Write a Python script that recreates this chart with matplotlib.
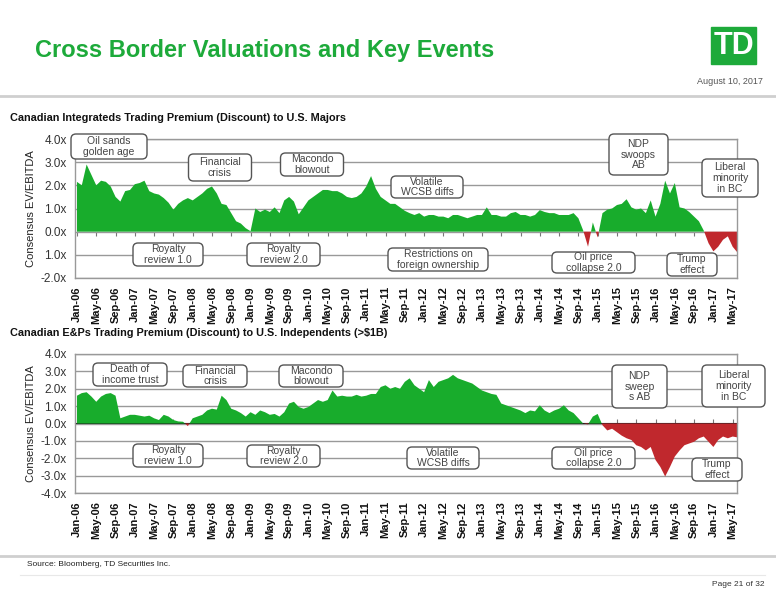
import matplotlib
matplotlib.use("Agg")
import matplotlib.pyplot as plt
from matplotlib.patches import FancyBboxPatch, Rectangle
import numpy as np
import pandas as pd

plt.rcParams["font.family"] = ["Liberation Sans", "DejaVu Sans"]

W, H = 776, 600

# monthly readings, Jan-06 .. Jun-17
integrated = [
    2.15, 2.0, 2.9, 2.45, 2.0, 2.2, 2.15, 1.95, 1.5, 1.3,
    1.75, 1.8, 2.05, 2.1, 2.2, 1.75, 1.65, 1.6, 1.45, 1.25,
    0.95, 1.2, 1.35, 1.45, 1.35, 1.5, 1.65, 1.85, 1.95, 1.65,
    1.2, 1.15, 0.8, 0.45, 0.35, 0.15, 0.02, 1.0, 0.85, 0.95,
    0.85, 1.05, 0.8, 1.35, 1.5, 1.3, 0.75, 1.05, 1.35, 1.5,
    1.65, 1.8, 1.8, 1.75, 1.75, 1.65, 1.5, 1.45, 1.5, 1.65,
    1.95, 2.4, 1.85, 1.5, 1.35, 1.2, 1.2, 1.05, 0.9, 0.8,
    0.72, 0.8, 0.65, 0.72, 0.72, 0.65, 0.65, 0.58, 0.72, 0.72,
    0.65, 0.58, 0.65, 0.72, 0.72, 1.05, 0.72, 0.72, 0.65, 0.65,
    0.8, 0.85, 0.72, 0.72, 0.65, 0.72, 0.93, 0.85, 0.8, 0.8,
    0.72, 0.72, 0.72, 0.8, 0.58, 0.05, -0.65, 0.4, -0.25, 0.8,
    0.95, 1.0, 1.15, 1.2, 1.4, 1.05, 0.95, 1.0, 0.8, 1.35,
    0.65, 1.2, 2.2, 1.65, 2.1, 1.05, 1.0, 0.85, 0.65, 0.45,
    0.05, -0.5, -0.85, -0.65, -0.35, -0.2, -0.65, -0.9,
]
eandp = [
    1.6, 1.75, 1.8, 1.55, 1.25, 1.55, 1.7, 1.75, 1.6, 0.3,
    0.4, 0.5, 0.5, 0.45, 0.4, 0.45, 0.3, 0.2, 0.5, 0.4,
    0.2, 0.12, 0.1, -0.15, 0.3, 0.4, 0.5, 0.75, 0.85, 0.8,
    1.6, 1.35, 0.85, 0.75, 0.6, 0.4, 0.65, 0.5, 0.75, 0.65,
    0.5, 0.55, 0.4, 0.65, 1.15, 1.25, 0.95, 0.85, 0.95, 1.15,
    1.35, 1.25, 1.35, 1.9, 1.55, 1.6, 1.55, 1.55, 1.65, 1.55,
    1.6, 1.7, 1.7, 2.1, 2.2, 2.0, 2.1, 2.0, 2.4, 2.6,
    2.2, 2.0, 1.8, 2.5, 2.1, 2.4, 2.5, 2.6, 2.8, 2.6,
    2.5, 2.4, 2.3, 2.1, 1.9, 1.8, 1.7, 1.65, 1.15, 1.05,
    0.95, 0.85, 0.75, 0.6, 0.75, 0.7, 1.05, 0.75, 0.6, 0.75,
    0.85, 1.05, 0.75, 0.6, 0.3, 0.0, -0.05, 0.4, 0.55, -0.1,
    -0.4, -0.3, -0.5, -0.7, -0.85, -0.95, -1.25, -1.35, -1.55, -1.35,
    -2.1, -2.5, -3.05, -2.5, -1.9, -1.55, -1.25, -1.15, -1.05, -0.85,
    -0.75, -1.05, -1.35, -0.95, -0.75, -0.85, -0.75, -0.8,
]
months = pd.date_range("2006-01-01", periods=len(integrated), freq="MS")
tick_idx = list(range(0, len(months), 4))
tick_labels = [months[i].strftime("%b-%y") for i in tick_idx]

top_yticks = [4, 3, 2, 1, 0, -1, -2]
top_ylabels = ["4.0x", "3.0x", "2.0x", "1.0x", "0.0x", "1.0x", "-2.0x"]
bot_yticks = [4, 3, 2, 1, 0, -1, -2, -3, -4]
bot_ylabels = ["4.0x", "3.0x", "2.0x", "1.0x", "0.0x", "-1.0x", "-2.0x", "-3.0x", "-4.0x"]

# (text, centre x, centre y, width, height) in page pixels
top_notes = [
    ("Oil sands\ngolden age", 109, 146.5, 76, 25),
    ("Financial\ncrisis", 220, 167.5, 63, 27),
    ("Macondo\nblowout", 312, 164.5, 63, 23),
    ("Volatile\nWCSB diffs", 427, 187, 72, 22),
    ("NDP\nswoops\nAB", 638.5, 154.5, 59, 41),
    ("Liberal\nminority\nin BC", 730, 178, 56, 38),
    ("Royalty\nreview 1.0", 168, 254.5, 70, 23),
    ("Royalty\nreview 2.0", 283.5, 254.5, 73, 23),
    ("Restrictions on\nforeign ownership", 438, 259.5, 100, 23),
    ("Oil price\ncollapse 2.0", 593.5, 262.5, 83, 21),
    ("Trump\neffect", 692, 264.5, 50, 23),
]
bot_notes = [
    ("Death of\nincome trust", 130, 374.5, 74, 23),
    ("Financial\ncrisis", 215, 376, 64, 22),
    ("Macondo\nblowout", 311, 376, 64, 22),
    ("NDP\nsweep\ns AB", 639.5, 386.5, 55, 43),
    ("Liberal\nminority\nin BC", 733.5, 386, 63, 42),
    ("Royalty\nreview 1.0", 168, 455.5, 70, 23),
    ("Royalty\nreview 2.0", 283.5, 456, 73, 22),
    ("Volatile\nWCSB diffs", 443, 458, 72, 22),
    ("Oil price\ncollapse 2.0", 593.5, 458, 83, 22),
    ("Trump\neffect", 717, 469.5, 50, 23),
]

GREEN = "#18AC2C"
RED = "#C0282D"
TD_GREEN = "#1DAA3A"

fig = plt.figure(figsize=(W / 100, H / 100), dpi=100)
fig.patch.set_facecolor("white")


def px_axes(left, top, right, bottom):
    return fig.add_axes([left / W, 1 - bottom / H, (right - left) / W, (bottom - top) / H])


def draw_chart(ax, values, ymin, ymax, yticks, ylabels):
    x = np.arange(len(values))
    v = np.array(values)
    ax.fill_between(x, 0, v, where=v >= 0, interpolate=True, color=GREEN, lw=0)
    ax.fill_between(x, 0, v, where=v <= 0, interpolate=True, color=RED, lw=0)
    ax.set_xlim(-0.41, 136.9)
    ax.set_ylim(ymin, ymax)
    ax.set_yticks(yticks)
    ax.set_yticklabels(ylabels, fontsize=8.5, color="#333")
    ax.tick_params(axis="y", length=0, pad=6)
    ax.set_xticks(tick_idx)
    ax.set_xticklabels(tick_labels, rotation=90, fontsize=8, fontweight="bold", color="#111")
    ax.tick_params(axis="x", length=0, pad=6)
    ax.grid(axis="y", color="#999", lw=1)
    ax.set_axisbelow(True)
    for s in ax.spines.values():
        s.set_color("#999")
        s.set_linewidth(1)
    zero = ax.secondary_xaxis((0 - ymin) / (ymax - ymin))
    zero.set_xticks(tick_idx)
    zero.set_xticklabels([])
    zero.tick_params(length=3, color="#777", direction="out")
    zero.spines["bottom"].set_visible(False)
    ax.set_ylabel("Consensus EV/EBITDA", fontsize=8, color="#222", labelpad=3)


ax1 = px_axes(75, 139, 737, 278)
draw_chart(ax1, integrated, -2, 4, top_yticks, top_ylabels)
ax2 = px_axes(75, 354, 737, 493)
draw_chart(ax2, eandp, -4, 4, bot_yticks, bot_ylabels)

# page overlay in pixel coordinates
ov = fig.add_axes([0, 0, 1, 1], zorder=10)
ov.set_xlim(0, W)
ov.set_ylim(H, 0)
ov.axis("off")
ov.patch.set_alpha(0)

ov.text(35, 51, "Cross Border Valuations and Key Events", fontsize=17, fontweight="bold",
        color=TD_GREEN, va="center", ha="left")
ov.add_patch(Rectangle((711, 27), 45, 37, color=TD_GREEN))
ov.text(733.5, 46, "TD", fontsize=22, fontweight="bold", color="white", ha="center", va="center")
ov.text(763, 82, "August 10, 2017", fontsize=6.5, color="#555", ha="right", va="center")
ov.plot([0, W], [96, 96], color="#cfcfcf", lw=2)

ov.text(10, 118, "Canadian Integrateds Trading Premium (Discount) to U.S. Majors", fontsize=7.8,
        fontweight="bold", color="#111", va="center")
ov.text(10, 333, "Canadian E&Ps Trading Premium (Discount) to U.S. Independents (>$1B)", fontsize=7.8,
        fontweight="bold", color="#111", va="center")

for text, cx, cy, w, h in top_notes + bot_notes:
    ov.add_patch(FancyBboxPatch((cx - w / 2, cy - h / 2), w, h,
                                boxstyle="round,pad=0,rounding_size=5",
                                fc="white", ec="#555", lw=1))
    ov.text(cx, cy, text, fontsize=7.5, color="#444", ha="center", va="center",
            linespacing=1.1)

ov.plot([0, W], [556, 556], color="#cfcfcf", lw=2)
ov.text(27, 565, "Source: Bloomberg, TD Securities Inc.", fontsize=6, color="#222", va="center")
ov.plot([20, 765], [575, 575], color="#e8e8e8", lw=0.8)
ov.text(764, 585, "Page 21 of 32", fontsize=6, color="#333", ha="right", va="center")

fig.savefig("out.png", dpi=100)
